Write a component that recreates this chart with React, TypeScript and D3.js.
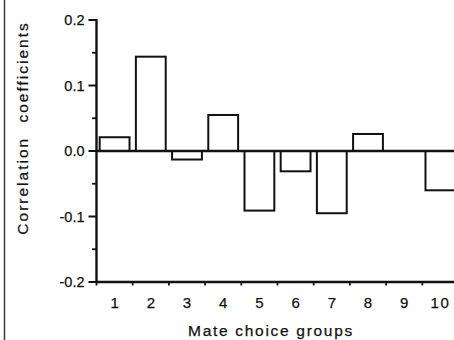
import React from "react"
import { scaleBand, scaleLinear } from "d3"

const groups = ["1", "2", "3", "4", "5", "6", "7", "8", "9", "10"]
const coefficients = [0.021, 0.144, -0.013, 0.055, -0.091, -0.031, -0.095, 0.026, 0, -0.06]
const majorTicks = [0.2, 0.1, 0, -0.1, -0.2]
const minorTicks = [0.15, 0.05, -0.05, -0.15]

const width = 454
const height = 340
const ink = "#111"
const font = "'Liberation Sans', Arial, Helvetica, sans-serif"

const App = () => {
  const x0 = 96.5
  const step = 36.2
  const xScale = scaleBand<string>()
    .domain(groups)
    .range([x0, x0 + step * groups.length])
    .paddingInner(0.176)
    .paddingOuter(0.088)

  const yScale = scaleLinear().domain([-0.2, 0.2]).range([282, 20])
  const zeroY = yScale(0)

  const boundaries = groups.map((_, i) => x0 + i * step).concat([x0 + groups.length * step])

  const textStyle = { stroke: ink, strokeWidth: 0.25 }

  return (
    <svg
      width={width}
      height={height}
      style={{ position: "absolute", left: 0, top: 0, background: "#fff" }}
    >
      {/* left frame edge */}
      <line x1={4.5} x2={4.5} y1={0} y2={height} stroke="#3a3a3a" strokeWidth={1.5} />

      {/* bars */}
      {coefficients.map((v, i) => {
        const g = groups[i]
        if (v === 0) return null
        const y = Math.min(yScale(v), zeroY)
        const h = Math.abs(yScale(v) - zeroY)
        return (
          <rect
            key={g}
            x={xScale(g)}
            y={y}
            width={xScale.bandwidth()}
            height={h}
            fill="#fff"
            stroke={ink}
            strokeWidth={2}
          />
        )
      })}

      {/* zero line */}
      <line x1={x0} x2={width} y1={zeroY} y2={zeroY} stroke={ink} strokeWidth={2.4} />

      {/* y axis */}
      <line x1={x0} x2={x0} y1={yScale(0.2) - 1} y2={yScale(-0.2) + 1} stroke={ink} strokeWidth={2.4} />
      {majorTicks.map((t) => (
        <g key={t}>
          <line x1={x0 - 8} x2={x0} y1={yScale(t)} y2={yScale(t)} stroke={ink} strokeWidth={2} />
          <text
            x={x0 - 12}
            y={yScale(t)}
            dy="0.35em"
            textAnchor="end"
            fontFamily={font}
            fontSize={14.5}
            fill={ink}
            style={textStyle}
          >
            {t.toFixed(1)}
          </text>
        </g>
      ))}
      {minorTicks.map((t) => (
        <line key={t} x1={x0 - 4.5} x2={x0} y1={yScale(t)} y2={yScale(t)} stroke={ink} strokeWidth={1.8} />
      ))}

      {/* x axis */}
      <line x1={x0} x2={width} y1={yScale(-0.2)} y2={yScale(-0.2)} stroke={ink} strokeWidth={2.4} />
      {boundaries.map((b, i) => (
        <line key={i} x1={b} x2={b} y1={yScale(-0.2)} y2={yScale(-0.2) + 3.5} stroke={ink} strokeWidth={1.8} />
      ))}
      {groups.map((g) => (
        <text
          key={g}
          x={(xScale(g) ?? 0) + xScale.bandwidth() / 2}
          y={307.5}
          textAnchor="middle"
          fontFamily={font}
          fontSize={15}
          letterSpacing={g.length > 1 ? 1.5 : 0}
          fill={ink}
          style={textStyle}
        >
          {g}
        </text>
      ))}

      {/* axis titles */}
      <text
        x={271}
        y={336}
        textAnchor="middle"
        fontFamily={font}
        fontSize={15.5}
        letterSpacing={1.7}
        fill={ink}
        style={textStyle}
      >
        Mate choice groups
      </text>
      <text
        transform={`translate(28, 128) rotate(-90)`}
        textAnchor="middle"
        fontFamily={font}
        fontSize={15.5}
        letterSpacing={2}
        wordSpacing={8}
        fill={ink}
        style={textStyle}
      >
        Correlation coefficients
      </text>
    </svg>
  )
}

export default App
